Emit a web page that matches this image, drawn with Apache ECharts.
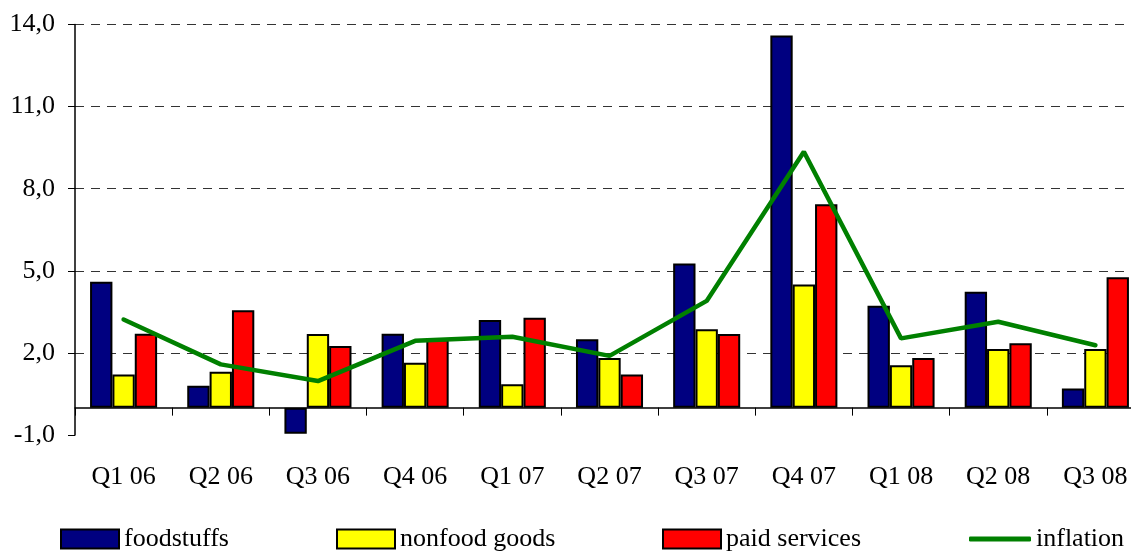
<!DOCTYPE html>
<html>
<head>
<meta charset="utf-8">
<script src="https://cdn.jsdelivr.net/npm/echarts@6/dist/echarts.min.js"></script>
<style>
  html, body { margin: 0; padding: 0; background: #fff; }
  #chart { width: 1131px; height: 551px; }
</style>
</head>
<body>
<div id="chart"></div>
<script>
var quarters = ['Q1 06', 'Q2 06', 'Q3 06', 'Q4 06', 'Q1 07', 'Q2 07', 'Q3 07', 'Q4 07', 'Q1 08', 'Q2 08', 'Q3 08'];
var foodstuffs = [4.6, 0.8, -0.95, 2.7, 3.2, 2.5, 5.27, 13.6, 3.72, 4.23, 0.7];
var nonfood = [1.21, 1.31, 2.69, 1.64, 0.85, 1.81, 2.86, 4.5, 1.55, 2.14, 2.14];
var paid = [2.7, 3.56, 2.25, 2.5, 3.28, 1.21, 2.69, 7.43, 1.81, 2.35, 4.76];
var inflation = [3.22, 1.58, 0.97, 2.44, 2.59, 1.89, 3.9, 9.35, 2.53, 3.14, 2.28];

var font = 'Liberation Serif';
var chart = echarts.init(document.getElementById('chart'));

function legendAt(name, left, icon, h, top) {
    return {
        data: [{ name: name, icon: icon }],
        left: left,
        top: top,
        padding: 0,
        itemWidth: icon === 'roundRect' ? 62 : 58,
        itemHeight: h,
        selectedMode: false,
        textStyle: { fontFamily: font, fontSize: 26, color: '#000' }
    };
}

function barSeries(name, data, color) {
    return {
        name: name,
        type: 'bar',
        data: data,
        barGap: '0%',
        barCategoryGap: '31%',
        itemStyle: { color: color, borderColor: '#000', borderWidth: 2 }
    };
}

var option = {
    animation: false,
    grid: { left: 75, top: 24.5, width: 1069, bottom: 116, containLabel: false, outerBoundsMode: 'none' },
    legend: [
        legendAt('foodstuffs', 60, 'rect', 19, 526),
        legendAt('nonfood goods', 336, 'rect', 19, 526),
        legendAt('paid services', 662, 'rect', 19, 526),
        legendAt('inflation', 969, 'roundRect', 5, 526)
    ],
    xAxis: {
        type: 'category',
        data: quarters,
        axisLine: { onZero: true, lineStyle: { color: '#000', width: 1.5 } },
        axisTick: { show: true, length: 8, lineStyle: { color: '#000' } },
        axisLabel: { margin: 29, fontFamily: font, fontSize: 26, color: '#000' }
    },
    yAxis: {
        type: 'value',
        min: -1,
        max: 14,
        interval: 3,
        axisLine: { show: true, lineStyle: { color: '#000', width: 1.5 } },
        axisTick: { show: true, length: 7, lineStyle: { color: '#000' } },
        axisLabel: {
            margin: 20,
            fontFamily: font,
            fontSize: 26,
            color: '#000',
            formatter: function (v) { return v.toFixed(1).replace('.', ','); }
        },
        splitLine: {
            show: true,
            showMinLine: false,
            lineStyle: { color: '#333', type: [9, 7], width: 1 }
        }
    },
    series: [
        barSeries('foodstuffs', foodstuffs, '#000080'),
        barSeries('nonfood goods', nonfood, '#ffff00'),
        barSeries('paid services', paid, '#ff0000'),
        {
            name: 'inflation',
            type: 'line',
            data: inflation,
            symbol: 'none',
            lineStyle: { color: '#008000', width: 4.5, cap: 'round' },
            itemStyle: { color: '#008000', borderWidth: 0 },
            z: 5
        }
    ]
};

chart.setOption(option);
</script>
</body>
</html>
